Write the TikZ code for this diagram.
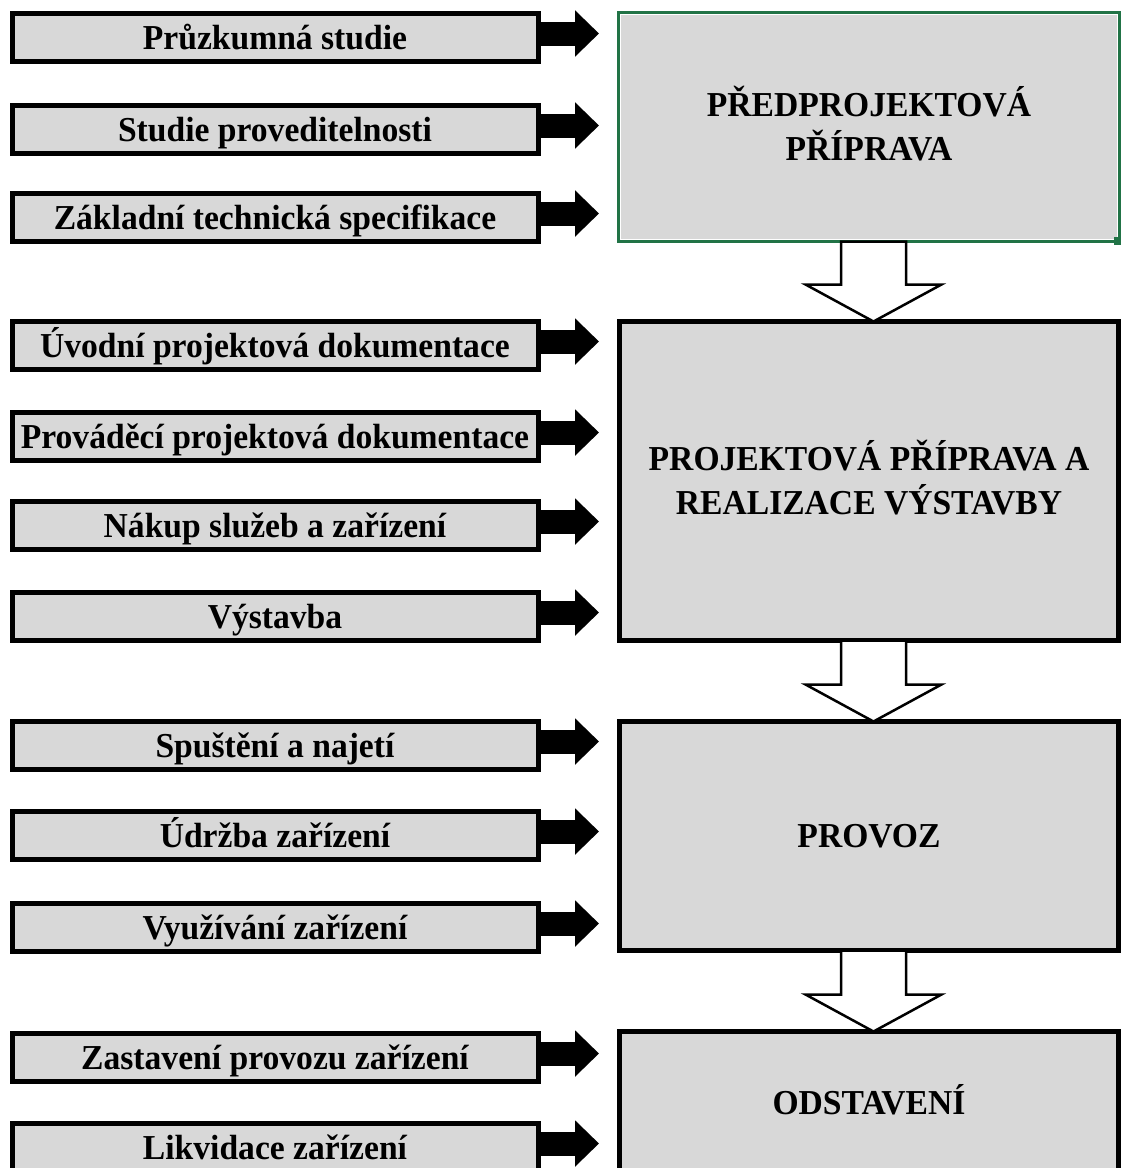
\documentclass[tikz,border=0pt]{standalone}
\usepackage{fontspec}
\setmainfont{Liberation Serif}[FakeStretch=0.96]
\usetikzlibrary{arrows.meta,calc}
\definecolor{boxgray}{RGB}{216,216,216}
\definecolor{xlgreen}{RGB}{33,115,70}
\newcommand\hollowdown[2]{%
  \draw[hollowarr] ($(#1.south)+(-28,0)$) -- ($(#2.north)+(-28,-37)$) -- ($(#2.north)+(-63.5,-37)$)
    -- ($(#2.north)+(4.5,0)$) -- ($(#2.north)+(72.5,-37)$) -- ($(#2.north)+(37,-37)$)
    -- ($(#1.south)+(37,0)$) -- cycle;}
\begin{document}
\begin{tikzpicture}[x=1pt,y=-1pt,
  txt/.style={font=\bfseries\fontsize{35pt}{44pt}\selectfont},
  lbox/.style={txt, draw=black, line width=5pt, fill=boxgray, minimum width=526pt,
    minimum height=48pt, inner sep=0pt, outer sep=0pt, text height=23pt, text depth=0pt},
  rbox/.style={txt, draw=black, line width=5pt, fill=boxgray, minimum width=499pt,
    inner sep=0pt, outer sep=0pt, align=center},
  blackarr/.style={line width=24pt, -{Triangle[length=24pt,width=45pt]}},
  hollowarr/.style={draw=black, fill=white, line width=2.5pt, line join=miter}
]
\useasboundingbox (0,0) rectangle (1121,1168);
\clip (0,0) rectangle (1121,1168);

% right column
\node[rbox, draw=xlgreen, line width=3pt, minimum width=501pt, minimum height=229pt, text depth=8pt] (A) at (869,127)
  {PŘEDPROJEKTOVÁ\\PŘÍPRAVA};
\draw[white, line width=1pt] ([shift={(2,2)}]A.north west) rectangle ([shift={(-2,-2)}]A.south east);
\fill[xlgreen] (1114,237) rectangle (1121,245);
\node[rbox, minimum height=319pt, text depth=8pt] (B) at (869,481) {PROJEKTOVÁ PŘÍPRAVA A\\REALIZACE VÝSTAVBY};
\node[rbox, minimum height=229pt, text height=23pt, text depth=0pt] (C) at (869,836) {PROVOZ};
\node[rbox, minimum height=143pt, text height=23pt, text depth=0pt] (D) at (869,1103) {ODSTAVENÍ};

\hollowdown{A}{B}
\hollowdown{B}{C}
\hollowdown{C}{D}

% left column
\node[lbox] (b1) at (275,37.5) {Průzkumná studie};
\node[lbox] (b2) at (275,129.5) {Studie proveditelnosti};
\node[lbox] (b3) at (275,217.5) {Základní technická specifikace};
\node[lbox] (b4) at (275,345.5) {Úvodní projektová dokumentace};
\node[lbox] (b5) at (275,436.5) {Prováděcí projektová dokumentace};
\node[lbox] (b6) at (275,525.5) {Nákup služeb a zařízení};
\node[lbox] (b7) at (275,616.5) {Výstavba};
\node[lbox] (b8) at (275,745.5) {Spuštění a najetí};
\node[lbox] (b9) at (275,835.5) {Údržba zařízení};
\node[lbox] (b10) at (275,927.5) {Využívání zařízení};
\node[lbox] (b11) at (275,1057.5) {Zastavení provozu zařízení};
\node[lbox] (b12) at (275,1147.5) {Likvidace zařízení};

\foreach \i in {1,...,12}{
  \draw[blackarr] ([yshift=4pt]b\i.east) -- ([yshift=4pt,xshift=61pt]b\i.east);
}
\end{tikzpicture}
\end{document}
